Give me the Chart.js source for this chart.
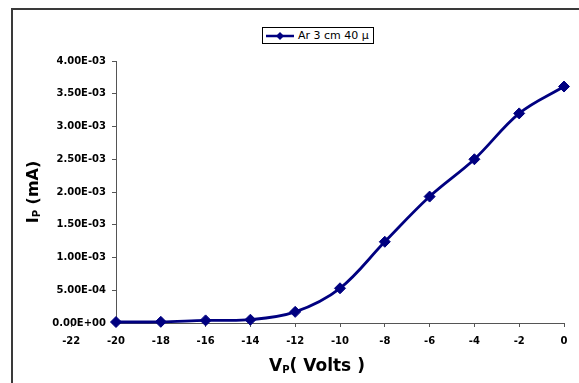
<!DOCTYPE html>
<html>
<head>
<meta charset="utf-8">
<script src="https://cdn.jsdelivr.net/npm/chart.js@4"></script>
<style>
  html, body { margin: 0; padding: 0; background: #fff; overflow: hidden; }
  #wrap { position: relative; width: 579px; height: 383px; }
  #frame {
    position: absolute; left: 11px; top: 8px; width: 620px; height: 420px;
    border-left: 2px solid #3a3a3a; border-top: 2px solid #3a3a3a;
  }
  #plot { position: absolute; left: 0; top: 0; }
  #legend {
    position: absolute; left: 262px; top: 27px; width: 110px; height: 15px;
    border: 1px solid #000; background: #fff;
    font: 11px "DejaVu Sans", sans-serif; color: #000;
    display: flex; align-items: center; white-space: nowrap;
  }
  #legend svg { margin-left: 2px; margin-right: 3px; }
</style>
</head>
<body>
<div id="wrap">
  <div id="frame"></div>
  <canvas id="plot" width="579" height="383"></canvas>
  <div id="legend"></div>
</div>
<script>
// probe voltage (V) and probe current
const voltage = [-20, -18, -16, -14, -12, -10, -8, -6, -4, -2, 0];
const current = [1.5e-5, 1.8e-5, 4e-5, 5e-5, 1.7e-4, 5.3e-4, 1.24e-3, 1.93e-3, 2.5e-3, 3.2e-3, 3.61e-3];
const seriesLabel = 'Ar 3 cm 40 \u00b5';
const xTicks = [-22, -20, -18, -16, -14, -12, -10, -8, -6, -4, -2, 0];
const yTicks = [0, 5e-4, 1e-3, 1.5e-3, 2e-3, 2.5e-3, 3e-3, 3.5e-3, 4e-3];

const lineColor = '#000080';
const axisColor = '#555555';
const tickFont = { family: 'DejaVu Sans', size: 10, weight: 'bold' };

// Excel style scientific label, e.g. 4.00E-03
function sciLabel(v) {
  if (v === 0) return '0.00E+00';
  const [mant, exp] = v.toExponential(2).toUpperCase().split('E');
  const n = parseInt(exp, 10);
  const sign = n < 0 ? '-' : '+';
  return `${mant}E${sign}${String(Math.abs(n)).padStart(2, '0')}`;
}

// draws "main" + subscript + rest, centred on (0,0) of current transform
function drawSubText(ctx, main, sub, rest, size) {
  const big = `bold ${size}px "DejaVu Sans"`;
  const small = `bold ${Math.round(size * 0.6)}px "DejaVu Sans"`;
  ctx.font = big;
  const w1 = ctx.measureText(main).width;
  const w3 = ctx.measureText(rest).width;
  ctx.font = small;
  const w2 = ctx.measureText(sub).width;
  let x = -(w1 + w2 + w3) / 2;
  ctx.textBaseline = 'middle';
  ctx.textAlign = 'left';
  ctx.font = big;
  ctx.fillText(main, x, 0);
  x += w1;
  ctx.font = small;
  ctx.fillText(sub, x, size * 0.22);
  x += w2;
  ctx.font = big;
  ctx.fillText(rest, x, 0);
}

const axisTitles = {
  id: 'axisTitles',
  afterDraw(chart) {
    const { ctx, chartArea } = chart;
    ctx.save();
    ctx.fillStyle = '#000';
    ctx.translate(317, 367);
    drawSubText(ctx, 'V', 'P', '( Volts )', 17);
    ctx.restore();

    ctx.save();
    ctx.fillStyle = '#000';
    ctx.translate(34, (chartArea.top + chartArea.bottom) / 2);
    ctx.rotate(-Math.PI / 2);
    drawSubText(ctx, 'I', 'P', ' (mA)', 16);
    ctx.restore();
  }
};

// legend box with line + diamond sample
document.getElementById('legend').innerHTML =
  `<svg width="30" height="10"><line x1="1" y1="5" x2="29" y2="5" stroke="${lineColor}" stroke-width="2.5"/>` +
  `<polygon points="15,1 19,5 15,9 11,5" fill="${lineColor}"/></svg><span>${seriesLabel}</span>`;

new Chart(document.getElementById('plot'), {
  type: 'line',
  data: {
    datasets: [{
      label: seriesLabel,
      data: voltage.map((v, i) => ({ x: v, y: current[i] })),
      borderColor: lineColor,
      backgroundColor: lineColor,
      borderWidth: 2.8,
      tension: 0.35,
      pointStyle: 'rectRot',
      pointRadius: 5.5,
      pointBorderWidth: 1,
      clip: false
    }]
  },
  options: {
    responsive: false,
    animation: false,
    layout: { padding: { left: 0, right: 15, top: 61, bottom: 0 } },
    plugins: { legend: { display: false }, tooltip: { enabled: false } },
    scales: {
      x: {
        type: 'linear',
        min: -20,
        max: 0,
        afterBuildTicks: scale => { scale.ticks = xTicks.map(v => ({ value: v })); },
        afterFit: scale => { scale.height = 60; },
        ticks: {
          autoSkip: false,
          maxRotation: 0,
          color: '#000',
          font: tickFont,
          padding: 8,
          callback: v => String(v)
        },
        grid: { drawOnChartArea: false, tickLength: 4, color: axisColor },
        border: { color: axisColor, width: 1 }
      },
      y: {
        min: 0,
        max: 0.004,
        afterBuildTicks: scale => { scale.ticks = yTicks.map(v => ({ value: v })); },
        afterFit: scale => { scale.width = 116; },
        ticks: {
          color: '#000',
          font: tickFont,
          padding: 6,
          callback: v => sciLabel(v)
        },
        grid: { drawOnChartArea: false, tickLength: 4, color: axisColor },
        border: { color: axisColor, width: 1 }
      }
    }
  },
  plugins: [axisTitles]
});
</script>
</body>
</html>
